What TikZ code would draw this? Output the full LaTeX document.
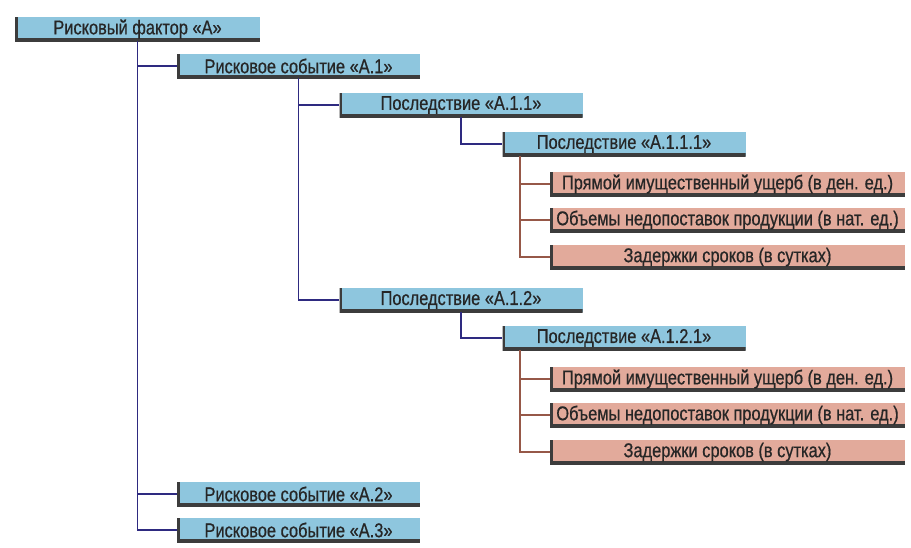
\documentclass[tikz,border=0pt]{standalone}
\usepackage{fontspec}
\setmainfont{Liberation Sans}[FakeStretch=0.82,FakeBold=0.6]
\definecolor{boxblue}{RGB}{142,198,222}
\definecolor{boxsalmon}{RGB}{226,170,155}
\definecolor{linenavy}{RGB}{46,42,128}
\definecolor{linebrown}{RGB}{150,88,72}
\definecolor{edgegray}{RGB}{60,60,60}
\tikzset{
  edged/.style={rectangle,inner sep=0pt,minimum height=24pt,text=black!85,
    font=\fontsize{20}{22}\selectfont,
    path picture={\draw[edgegray,line width=5.5pt]
      (path picture bounding box.north west) -- (path picture bounding box.south west)
      -- (path picture bounding box.south east);}},
  bluebox/.style={edged,fill=boxblue,minimum width=243pt},
  salmonbox/.style={edged,fill=boxsalmon,minimum width=355pt},
  navyline/.style={linenavy,line width=1.8pt},
  brownline/.style={linebrown,line width=1.8pt}
}
\begin{document}
\begin{tikzpicture}[x=1pt,y=1pt]
  \useasboundingbox (0,0) rectangle (911,-547);
  \node[bluebox,minimum width=245pt] (A) at (137.5,-29) {Рисковый фактор «А»};
  \node[bluebox] (A1) at (298.5,-66) {Рисковое событие «А.1»};
  \node[bluebox] (A11) at (461,-105) {Последствие «А.1.1»};
  \node[bluebox] (A111) at (624,-144) {Последствие «А.1.1.1»};
  \node[bluebox] (A12) at (461,-300) {Последствие «А.1.2»};
  \node[bluebox] (A121) at (624,-338) {Последствие «А.1.2.1»};
  \node[bluebox] (A2) at (298.5,-494) {Рисковое событие «А.2»};
  \node[bluebox] (A3) at (298.5,-530) {Рисковое событие «А.3»};
  % consequences of A.1.1.1 and A.1.2.1
  \foreach \p/\yo in {A111/-184,A121/-379} {
    \node[salmonbox] (\p a) at (727.5,\yo) {Прямой имущественный ущерб (в ден. ед.)};
    \node[salmonbox] (\p b) at (727.5,\yo-36) {Объемы недопоставок продукции (в нат. ед.)};
    \node[salmonbox] (\p c) at (727.5,\yo-73) {Задержки сроков (в сутках)};
    \draw[brownline] ([xshift=18pt]\p.south west) |- (\p a.west);
    \draw[brownline] ([xshift=18pt]\p.south west) |- (\p b.west);
    \draw[brownline] ([xshift=18pt]\p.south west) |- (\p c.west);
  }
  \draw[navyline] (A.south) |- (A1.west);
  \draw[navyline] (A.south) |- (A2.west);
  \draw[navyline] (A.south) |- (A3.west);
  \draw[navyline] (A1.south) |- (A11.west);
  \draw[navyline] (A1.south) |- (A12.west);
  \draw[navyline] (A11.south) |- (A111.west);
  \draw[navyline] (A12.south) |- (A121.west);
\end{tikzpicture}
\end{document}
